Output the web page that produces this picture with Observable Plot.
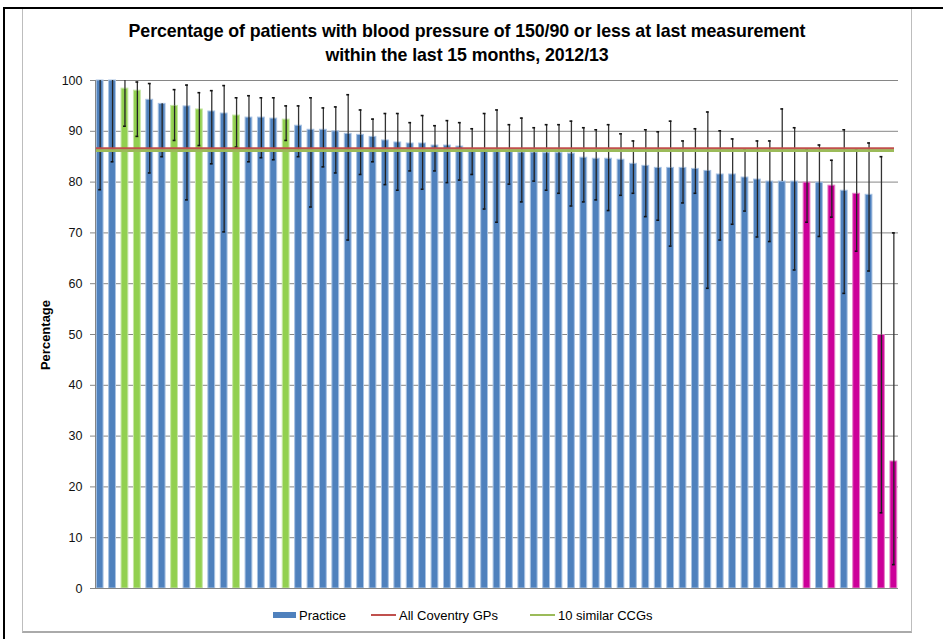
<!DOCTYPE html>
<html>
<head>
<meta charset="utf-8">
<script src="https://cdn.jsdelivr.net/npm/d3@7"></script>
<script src="https://cdn.jsdelivr.net/npm/@observablehq/plot@0.6"></script>
<style>
  html, body { margin: 0; padding: 0; background: #fff; }
  body { width: 943px; height: 639px; position: relative; overflow: hidden; font-family: "Liberation Sans", Arial, sans-serif; }
  #outerTop { position: absolute; left: 3px; top: 7px; width: 940px; height: 2px; background: #000; }
  #outerLeft { position: absolute; left: 3px; top: 7px; width: 2px; height: 632px; background: #000; }
  #box { position: absolute; left: 22px; top: 9px; width: 890px; height: 624px; border-left: 1px solid #bdbdbd; border-right: 1px solid #bdbdbd; border-bottom: 2px solid #aaa; box-sizing: border-box; }
  #title { position: absolute; left: 0; top: 19px; width: 934px; text-align: center; font-weight: bold; font-size: 17.8px; line-height: 24px; color: #000; letter-spacing: -0.1px; }
  #chart { position: absolute; left: 0; top: 72px; }
  #ylabel { position: absolute; left: 45px; top: 335px; transform: translate(-50%, -50%) rotate(-90deg); font-weight: bold; font-size: 13px; white-space: nowrap; }
  #legend { position: absolute; top: 606px; left: 0; width: 943px; font-size: 13px; color: #000; }
  .li { position: absolute; top: 0; display: flex; align-items: center; height: 18px; white-space: nowrap; }
  .sw { display: inline-block; margin-right: 3px; }
</style>
</head>
<body>
<div id="outerTop"></div>
<div id="outerLeft"></div>
<div id="box"></div>
<div id="title">Percentage of patients with blood pressure of 150/90 or less at last measurement<br>within the last 15 months, 2012/13</div>
<div id="chart"></div>
<div id="ylabel">Percentage</div>
<div id="legend"></div>
<script>
// Practice values (percent), ordered as in the chart
const values = [100, 100, 98.4, 98.0, 96.2, 95.4, 95.0, 94.9, 94.3, 93.9,
  93.5, 93.1, 92.7, 92.7, 92.5, 92.3, 91.1, 90.3, 90.3, 90.0,
  89.5, 89.3, 88.9, 88.2, 87.8, 87.6, 87.6, 87.2, 87.2, 87.0,
  86.0, 86.0, 85.9, 85.9, 85.8, 85.8, 85.7, 85.7, 85.6, 84.8,
  84.6, 84.6, 84.4, 83.6, 83.2, 82.8, 82.8, 82.8, 82.6, 82.2,
  81.5, 81.5, 80.9, 80.5, 80.1, 80.1, 80.1, 79.9, 79.9, 79.3,
  78.3, 77.7, 77.5, 49.9, 25.0];
// Lower confidence limits (null = not shown)
const lower = [78.5, 84.0, 91.0, 89.0, 81.8, 85.0, 88.2, 76.5, 87.2, 83.6,
  70.2, 86.9, 84.0, 84.8, 84.4, 88.2, 85.0, 75.1, 83.0, 81.8,
  68.6, 81.5, 84.0, 79.5, 78.4, 82.2, 78.6, 82.2, 79.9, 80.4,
  81.5, 74.7, 72.1, 79.6, 76.1, 80.2, 78.4, 77.8, 75.3, 76.1,
  76.5, 74.4, 77.4, 77.8, 73.2, 72.5, 67.4, 75.9, 77.8, 59.1,
  68.6, 71.7, 74.3, 69.2, 68.3, null, 62.7, 72.1, 69.3, 73.1,
  58.1, 66.4, 62.5, 14.9, 4.7];
// Upper confidence limits (null = not shown)
const upper = [100, 100, 100, 99.7, 99.4, null, 98.2, 99.1, 97.6, 98.0,
  99.0, 96.6, 97.0, 96.6, 96.6, 95.0, 95.0, 96.6, 94.6, 94.8,
  97.2, 94.2, 92.4, 93.5, 93.5, 91.7, 93.1, 91.1, 92.1, 91.7,
  90.5, 93.5, 94.2, 91.3, 92.6, 90.7, 91.3, 91.3, 92.0, 90.7,
  90.3, 91.3, 89.5, 88.1, 90.3, 89.9, 92.0, 88.1, 90.5, 93.8,
  90.1, 88.5, 86.5, 88.1, 88.1, 94.4, 90.7, 86.5, 87.3, 84.3,
  90.3, 86.5, 87.7, 85.0, 70.0];
// Bar highlight group: P = practice, S = similar-CCG-level, M = below
const groups = ["P","P","S","S","P","P","S","P","S","P",
  "P","S","P","P","P","S","P","P","P","P",
  "P","P","P","P","P","P","P","P","P","P",
  "P","P","P","P","P","P","P","P","P","P",
  "P","P","P","P","P","P","P","P","P","P",
  "P","P","P","P","P","P","P","M","P","M",
  "P","M","P","M","M"];
const allCoventry = 86.6;
const similarCCGs = 86.2;
const yTicks = [0, 10, 20, 30, 40, 50, 60, 70, 80, 90, 100];

const colors = {P: "#4F81BD", S: "#92D050", M: "#CC0099"};
const edge = {P: "#A9C3E3", S: "#C6E7A5", M: "#E580C8"};

const data = values.map((v, i) => ({id: i, v, lo: lower[i], hi: upper[i], g: groups[i]}));
const ids = data.map(d => d.id);

const chart = Plot.plot({
  width: 943,
  height: 531,
  marginLeft: 95,
  marginRight: 45,
  marginTop: 8,
  marginBottom: 15,
  style: {fontFamily: "'Liberation Sans', Arial, sans-serif", fontSize: "12.5px", color: "#111"},
  x: {type: "band", domain: ids, paddingInner: 0.45, paddingOuter: 0.1, round: false, axis: null},
  y: {domain: [0, 100], ticks: yTicks, label: null, tickSize: 0},
  marks: [
    Plot.ruleY(yTicks.filter(t => t > 0), {stroke: "#868686", strokeWidth: 1}),
    Plot.barY(data, {x: "id", y: "v", fill: d => colors[d.g], stroke: d => edge[d.g], strokeWidth: 1}),
    Plot.ruleX(data.filter(d => d.lo != null), {x: "id", y1: "lo", y2: "v", stroke: "#222", strokeWidth: 1.3}),
    Plot.ruleX(data.filter(d => d.hi != null), {x: "id", y1: "v", y2: "hi", stroke: "#333", strokeWidth: 1.3}),
    Plot.tickY(data.filter(d => d.lo != null), {x: "id", y: "lo", stroke: "#111", strokeWidth: 1.6, insetLeft: 2, insetRight: 2}),
    Plot.tickY(data.filter(d => d.hi != null && d.hi < 100), {x: "id", y: "hi", stroke: "#111", strokeWidth: 1.6, insetLeft: 2, insetRight: 2}),
    Plot.ruleY([allCoventry], {stroke: "#C0504D", strokeWidth: 2.6, insetRight: 4}),
    Plot.ruleY([similarCCGs], {stroke: "#9BBB59", strokeWidth: 2.6, insetRight: 4}),
    Plot.ruleY([0], {stroke: "#868686", strokeWidth: 1}),
    Plot.axisY({ticks: yTicks, tickSize: 5, tickPadding: 8, stroke: "#868686", tickFormat: d => String(d)})
  ]
});
document.getElementById("chart").appendChild(chart);

// vertical axis line
d3.select(chart).append("line").attr("x1", 95.5).attr("x2", 95.5).attr("y1", 8).attr("y2", 516).attr("stroke", "#868686");

// legend
const legendItems = [
  {label: "Practice", kind: "rect", color: "#4F81BD", left: 273},
  {label: "All Coventry GPs", kind: "line", color: "#C0504D", left: 371},
  {label: "10 similar CCGs", kind: "line", color: "#9BBB59", left: 530}
];
const leg = document.getElementById("legend");
legendItems.forEach(it => {
  const el = document.createElement("div");
  el.className = "li";
  el.style.left = it.left + "px";
  const sw = document.createElement("span");
  sw.className = "sw";
  if (it.kind === "rect") { sw.style.width = "23px"; sw.style.height = "6px"; sw.style.background = it.color; }
  else { sw.style.width = "25px"; sw.style.height = "2px"; sw.style.background = it.color; }
  el.appendChild(sw);
  const t = document.createElement("span");
  t.textContent = it.label;
  el.appendChild(t);
  leg.appendChild(el);
});
</script>
</body>
</html>
